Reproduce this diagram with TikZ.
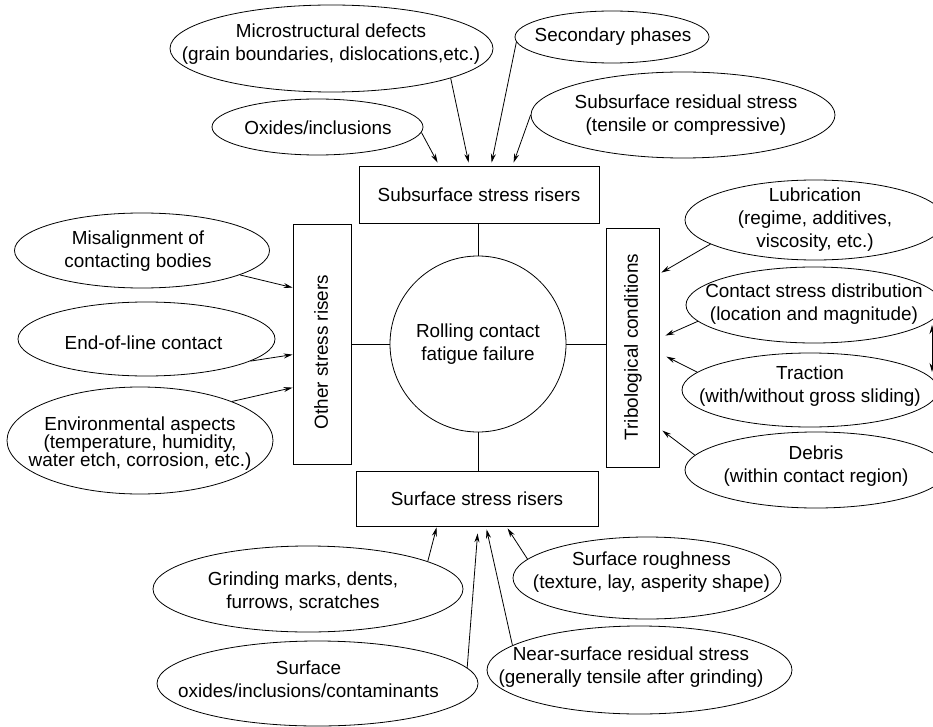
\documentclass[tikz,border=0pt]{standalone}
\usepackage{fontspec}
\setmainfont{Liberation Sans}
\usetikzlibrary{shapes.geometric,arrows.meta,calc}
\begin{document}
\begin{tikzpicture}[x=1pt,y=-1pt, line width=0.8pt,
 ell/.style={draw, ellipse, inner sep=0pt},
 box/.style={draw, rectangle, inner sep=0pt, align=center, font=\fontsize{18.9}{23}\selectfont},
 txt/.style={align=center, font=\fontsize{18.9}{23}\selectfont, inner sep=0pt},
 arr/.style={-{Stealth[length=9pt,width=5pt]}}]
\useasboundingbox (0,0) rectangle (933,727);

% central elements
\node[draw, circle, minimum size=176pt, inner sep=0pt, txt] (rc) at (478,344) {Rolling contact\\fatigue failure};
\node[box, minimum width=240pt, minimum height=57pt] (ssr) at (479,194.5) {Subsurface stress risers};
\node[box, minimum width=242pt, minimum height=55pt] (sfr) at (477,498.5) {Surface stress risers};
\node[box, minimum width=58pt, minimum height=240pt] (osr) at (322,344) {};
\node[txt, rotate=90] (osrT) at (321,352) {Other stress risers};
\node[box, minimum width=53pt, minimum height=239pt] (tc) at (632.5,347.5) {};
\node[txt, rotate=90] (tcT) at (633,347) {Tribological conditions};

\draw (rc.north) -- (rc.north |- ssr.south);
\draw (rc.south) -- (rc.south |- sfr.north);
\draw (rc.west) -- (rc.west -| osr.east);
\draw (rc.east) -- (rc.east -| tc.west);

% top ellipses
\node[ell, minimum width=323pt, minimum height=87pt] (micro) at (331.5,48.5) {};
\node[txt] (microT) at (331,44) {Microstructural defects\\(grain boundaries, dislocations,etc.)};
\node[ell, minimum width=194pt, minimum height=52pt] (sec) at (612,37) {};
\node[txt] (secT) at (613,37) {Secondary phases};
\node[ell, minimum width=211pt, minimum height=56pt] (oxi) at (317.5,127) {};
\node[txt] (oxiT) at (318,128) {Oxides/inclusions};
\node[ell, minimum width=304pt, minimum height=86pt] (ssres) at (683,115) {};
\node[txt] (ssresT) at (686,115.5) {Subsurface residual stress\\(tensile or compressive)};

\draw[arr] (oxi.-3) -- ($(ssr.north west)+(79,-3)$);
\draw[arr] (micro.-14.6) -- ($(ssr.north west)+(110,-3)$);
\draw[arr] (sec.183.7) -- ($(ssr.north west)+(133,-3)$);
\draw[arr] (ssres.180) -- ($(ssr.north west)+(155,-3)$);

% left ellipses
\node[ell, minimum width=255pt, minimum height=75pt] (mis) at (142,250.5) {};
\node[txt] (misT) at (138,251.5) {Misalignment of\\contacting bodies};
\node[ell, minimum width=257pt, minimum height=74pt] (eol) at (146.5,339) {};
\node[txt] (eolT) at (143.5,343) {End-of-line contact};
\node[ell, minimum width=266pt, minimum height=107pt] (env) at (140,440.5) {};
\node[txt, font=\fontsize{18.9}{18}\selectfont] (envT) at (140,444) {Environmental aspects\\(temperature, humidity,\\water etch, corrosion, etc.)};

\draw[arr] (mis.-14.6) -- ($(osr.north west)+(0,64)$);
\draw[arr] (eol.-12.5) -- ($(osr.north west)+(0,131)$);
\draw[arr] (env.23) -- ($(osr.north west)+(0,164)$);

% right ellipses
\node[ell, minimum width=260pt, minimum height=80pt] (lub) at (815,220) {};
\node[txt] (lubT) at (815,220) {Lubrication\\(regime, additives,\\viscosity, etc.)};
\node[ell, minimum width=256pt, minimum height=76pt] (con) at (814,305) {};
\node[txt] (conT) at (814,304) {Contact stress distribution\\(location and magnitude)};
\node[ell, minimum width=256pt, minimum height=74pt] (tra) at (810,390) {};
\node[txt] (traT) at (810,386) {Traction\\(with/without gross sliding)};
\node[ell, minimum width=262pt, minimum height=76pt] (deb) at (816,470) {};
\node[txt] (debT) at (816,466) {Debris\\(within contact region)};

\draw[arr] (lub.193.5) -- ($(tc.north east)+(2,45)$);
\draw[arr] (con.188.5) -- ($(tc.north east)+(6,108)$);
\draw[arr] (tra.171.4) -- ($(tc.north east)+(7,129)$);
\draw[arr] (deb.173.5) -- ($(tc.north east)+(3,203)$);

\coordinate (dA) at (932,325);
\coordinate (dB) at (932,372);
\draw[{Stealth[length=9pt,width=5pt]}-{Stealth[length=9pt,width=5pt]}] (dA) -- (dB);

% bottom ellipses
\node[ell, minimum width=310pt, minimum height=86pt] (gri) at (308,589) {};
\node[txt] (griT) at (303,591.5) {Grinding marks, dents,\\furrows, scratches};
\node[ell, minimum width=321pt, minimum height=85pt] (sox) at (317.5,683.5) {};
\node[txt] (soxT) at (308.5,679) {Surface\\oxides/inclusions/contaminants};
\node[ell, minimum width=305pt, minimum height=88pt] (nsr) at (639.5,670) {};
\node[txt] (nsrT) at (631,667.5) {Near-surface residual stress\\(generally tensile after grinding)};
\node[ell, minimum width=268pt, minimum height=82pt] (rou) at (647,578) {};
\node[txt] (rouT) at (651.5,572.5) {Surface roughness\\(texture, lay, asperity shape)};

\draw[arr] (gri.13.6) -- ($(sfr.south west)+(81,1)$);
\draw[arr] (sox.6.2) -- ($(sfr.south west)+(122,7)$);
\draw[arr] (nsr.169.7) -- ($(sfr.south west)+(131,3)$);
\draw[arr] (rou.171.2) -- ($(sfr.south west)+(152,2)$);
\end{tikzpicture}
\end{document}
